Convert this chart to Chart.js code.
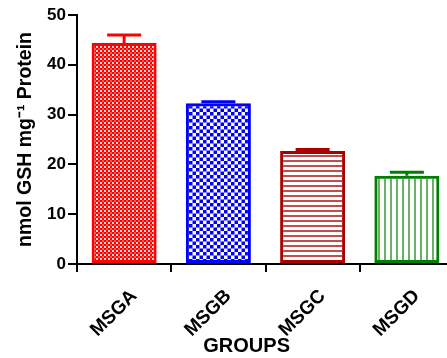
<!DOCTYPE html>
<html>
<head>
<meta charset="utf-8">
<script src="https://cdn.jsdelivr.net/npm/chart.js@4.4.1/dist/chart.umd.min.js"></script>
<style>
  html, body { margin: 0; padding: 0; background: #fff; overflow: hidden; }
  #wrap { width: 454px; height: 358px; }
</style>
</head>
<body>
<div id="wrap"><canvas id="gshChart" width="454" height="358"></canvas></div>
<script>
// datos
const groups = ['MSGA', 'MSGB', 'MSGC', 'MSGD'];
const meanValues = [44.4, 32.3, 22.7, 17.7];
const errorValues = [1.6, 0.3, 0.3, 0.7];
const yTicks = [0, 10, 20, 30, 40, 50];
const barColors = ['#ff0000', '#0000ff', '#aa0000', '#008000'];
const fillTypes = ['fineCheck', 'check', 'hLines', 'vLines'];

const FONT = '"Liberation Sans", Arial, sans-serif';

//todo: patrones de relleno
function makePattern(type, color) {
    const c = document.createElement('canvas');
    const ctx = c.getContext('2d');
    if (type === 'fineCheck') {
        c.width = 4; c.height = 4;
        ctx.fillStyle = '#ffd6d6';
        ctx.fillRect(0, 0, 4, 4);
        ctx.fillStyle = color;
        ctx.fillRect(0, 0, 2, 2);
        ctx.fillRect(2, 2, 2, 2);
        ctx.globalAlpha = 0.6;
        ctx.fillRect(2, 0, 2, 2);
    } else if (type === 'check') {
        c.width = 7; c.height = 7;
        ctx.fillStyle = color;
        ctx.fillRect(0, 0, 3.5, 3.5);
        ctx.fillRect(3.5, 3.5, 3.5, 3.5);
    } else if (type === 'hLines') {
        c.width = 5; c.height = 5;
        ctx.fillStyle = color;
        ctx.globalAlpha = 0.7;
        ctx.fillRect(0, 0, 5, 2);
    } else {
        c.width = 6; c.height = 6;
        ctx.fillStyle = color;
        ctx.globalAlpha = 0.6;
        ctx.fillRect(0, 0, 2, 6);
    }
    return document.getElementById('gshChart').getContext('2d').createPattern(c, 'repeat');
}

//!barras de error (solo hacia arriba)
const errorBars = {
    id: 'errorBars',
    afterDatasetsDraw(chart) {
        const ctx = chart.ctx;
        const yScale = chart.scales.y;
        const meta = chart.getDatasetMeta(0);
        ctx.save();
        ctx.lineWidth = 3;
        meta.data.forEach(function (bar, i) {
            const top = yScale.getPixelForValue(meanValues[i] + errorValues[i]);
            ctx.strokeStyle = barColors[i];
            ctx.beginPath();
            ctx.moveTo(bar.x, bar.y);
            ctx.lineTo(bar.x, top);
            ctx.moveTo(bar.x - 17, top);
            ctx.lineTo(bar.x + 17, top);
            ctx.stroke();
        });
        ctx.restore();
    }
};

// titulo del eje x (algo a la izquierda del centro, como en el original)
const xAxisTitle = {
    id: 'xAxisTitle',
    afterDraw(chart) {
        const ctx = chart.ctx;
        const area = chart.chartArea;
        ctx.save();
        ctx.fillStyle = '#000';
        ctx.font = 'bold 20px ' + FONT;
        ctx.textAlign = 'center';
        ctx.textBaseline = 'middle';
        ctx.fillText('GROUPS', area.left + (area.right - area.left) * 0.45, chart.height - 12);
        ctx.restore();
    }
};

document.addEventListener('DOMContentLoaded', function () {
    const chartCtx = document.getElementById('gshChart').getContext('2d');
    new Chart(chartCtx, {
        type: 'bar',
        data: {
            labels: groups,
            datasets: [{
                data: meanValues,
                backgroundColor: barColors.map((col, i) => makePattern(fillTypes[i], col)),
                borderColor: barColors,
                borderWidth: 3,
                borderSkipped: false,
                barPercentage: 0.69,
                categoryPercentage: 1
            }]
        },
        options: {
            responsive: false,
            animation: false,
            layout: { padding: { top: 15, left: 0, right: 0, bottom: 0 } },
            plugins: {
                legend: { display: false },
                tooltip: { enabled: false }
            },
            scales: {
                x: {
                    afterFit: function (scale) { scale.height = 94; },
                    grid: { display: true, drawOnChartArea: false, color: '#000', lineWidth: 2, tickLength: 8 },
                    border: { display: true, color: '#000', width: 2 },
                    ticks: {
                        color: '#000',
                        minRotation: 45,
                        maxRotation: 45,
                        padding: 13,
                        labelOffset: 10,
                        font: { family: FONT, size: 19, weight: 'bold' }
                    }
                },
                y: {
                    min: 0,
                    max: 50,
                    afterFit: function (scale) { scale.width = 77; },
                    afterBuildTicks: function (scale) { scale.ticks = yTicks.map(v => ({ value: v })); },
                    grid: { display: true, drawOnChartArea: false, color: '#000', lineWidth: 2, tickLength: 9 },
                    border: { display: true, color: '#000', width: 2 },
                    ticks: {
                        color: '#000',
                        padding: 2,
                        font: { family: FONT, size: 17, weight: 'bold' }
                    },
                    title: {
                        display: true,
                        text: 'nmol GSH mg\u207B\u00B9 Protein',
                        color: '#000',
                        padding: { top: 14, bottom: 0 },
                        font: { family: FONT, size: 19.5, weight: 'bold' }
                    }
                }
            }
        },
        plugins: [errorBars, xAxisTitle]
    });
});
</script>
</body>
</html>
